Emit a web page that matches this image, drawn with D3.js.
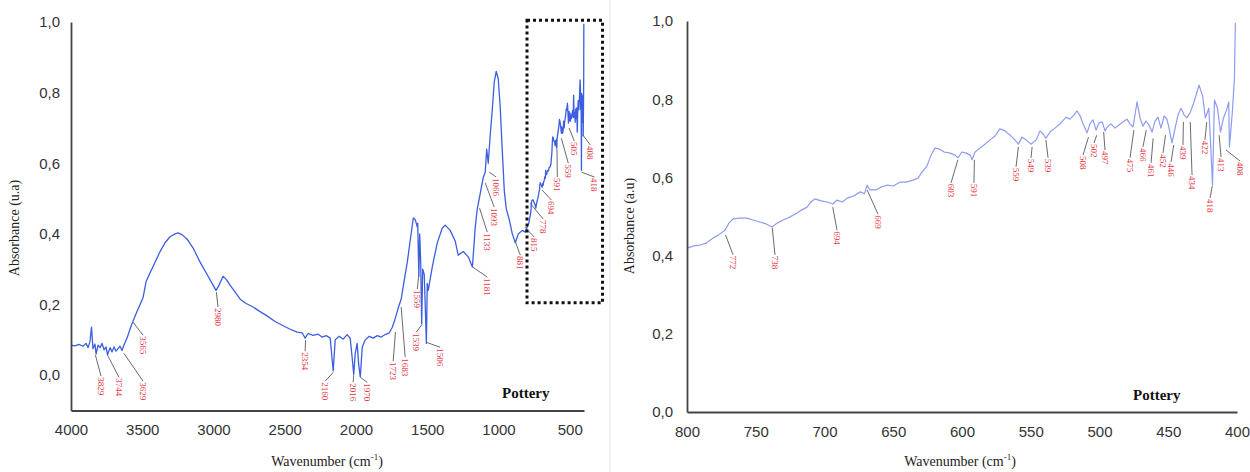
<!DOCTYPE html>
<html>
<head>
<meta charset="utf-8">
<script src="https://cdn.jsdelivr.net/npm/d3@7"></script>
<style>
    body { margin: 0; background: #fff; }
    svg { display: block; }
    .tick text { font-family: "Liberation Sans", Arial, sans-serif; font-size: 15px; fill: #333; }
    .axis-title { font-family: "Liberation Serif", "Times New Roman", serif; font-size: 14px; fill: #222; }
    .sample-name { font-family: "Liberation Serif", "Times New Roman", serif; font-size: 15px; font-weight: bold; fill: #111; }
    .peak-label { font-family: "Liberation Serif", "Times New Roman", serif; font-size: 9px; fill: #e8343c; }
</style>
</head>
<body>
<div id="chart"></div>
<script>
// full spectrum, 4000 -> 800 cm-1
const fullWaves = [4000, 3972, 3944, 3916, 3895, 3880, 3867, 3856, 3846, 3832, 3824, 3810, 3796, 3782, 3768, 3754, 3744, 3726, 3712, 3698, 3684, 3670, 3656, 3642, 3629, 3607, 3586, 3565, 3537, 3515, 3494, 3473, 3445, 3410, 3375, 3340, 3305, 3270, 3249, 3221, 3185, 3143, 3094, 3045, 3003, 2982, 2961, 2933, 2912, 2884, 2848, 2813, 2771, 2722, 2673, 2624, 2568, 2511, 2462, 2413, 2378, 2357, 2336, 2301, 2266, 2238, 2209, 2181, 2160, 2146, 2118, 2090, 2062, 2041, 2027, 2016, 2006, 1992, 1981, 1970, 1956, 1935, 1907, 1879, 1851, 1823, 1795, 1767, 1746, 1725, 1704, 1683, 1661, 1640, 1620, 1598, 1584, 1570, 1567, 1559, 1553, 1546, 1539, 1532, 1521, 1506, 1500, 1493, 1465, 1430, 1395, 1374, 1339, 1304, 1283, 1247, 1212, 1183, 1163, 1149, 1135, 1121, 1107, 1093, 1083, 1072, 1058, 1044, 1030, 1016, 1002, 988, 974, 959, 945, 924, 903, 882, 861, 833, 812];
const fullAbs = [0.085, 0.083, 0.087, 0.082, 0.090, 0.078, 0.095, 0.136, 0.075, 0.088, 0.060, 0.085, 0.078, 0.090, 0.072, 0.080, 0.058, 0.078, 0.066, 0.080, 0.068, 0.075, 0.082, 0.070, 0.085, 0.105, 0.130, 0.153, 0.180, 0.200, 0.220, 0.265, 0.290, 0.320, 0.350, 0.375, 0.392, 0.400, 0.403, 0.398, 0.385, 0.360, 0.320, 0.285, 0.255, 0.240, 0.255, 0.280, 0.272, 0.255, 0.235, 0.215, 0.203, 0.193, 0.180, 0.168, 0.152, 0.140, 0.130, 0.122, 0.120, 0.105, 0.118, 0.113, 0.116, 0.108, 0.112, 0.105, 0.012, 0.100, 0.110, 0.102, 0.115, 0.105, 0.050, 0.002, 0.060, 0.090, 0.030, -0.005, 0.080, 0.100, 0.110, 0.105, 0.112, 0.108, 0.115, 0.120, 0.135, 0.160, 0.190, 0.215, 0.270, 0.320, 0.380, 0.445, 0.440, 0.420, 0.430, 0.280, 0.400, 0.320, 0.145, 0.300, 0.285, 0.090, 0.260, 0.240, 0.306, 0.374, 0.416, 0.425, 0.410, 0.380, 0.340, 0.350, 0.335, 0.306, 0.420, 0.470, 0.500, 0.530, 0.560, 0.575, 0.640, 0.600, 0.680, 0.750, 0.830, 0.860, 0.840, 0.760, 0.640, 0.520, 0.470, 0.440, 0.400, 0.375, 0.400, 0.410, 0.405];

// expanded region, 800 -> 400 cm-1
const zoomWaves = [800, 795, 790.5, 786, 781, 777, 772.4, 769.5, 766.5, 761.5, 756.4, 752, 747, 742.5, 738.2, 734.5, 730, 725, 720, 716.4, 712.7, 710, 707, 702.5, 698, 694, 691, 687, 683.6, 679, 674, 671, 669, 667, 662.5, 659, 654.5, 650, 645, 640.7, 635.6, 632, 629, 625.5, 622.5, 619.6, 616.7, 613, 608.7, 605, 603, 600, 597, 594, 592.7, 590.5, 587.6, 584, 579.6, 576, 572.4, 568.7, 565, 561.5, 559, 556.4, 553.4, 549.8, 546, 543.3, 541, 539, 536, 532.4, 528.7, 524.3, 521.5, 518.5, 516.4, 514, 512, 509, 507, 504.7, 502.5, 500.4, 498, 496, 494, 491.6, 488.7, 485.8, 483, 480, 477.8, 475.6, 472.7, 470.5, 468.4, 466.2, 464, 461.8, 459.6, 457.5, 455.3, 453, 451, 449.4, 447.3, 445, 442.9, 440.7, 438.5, 436.4, 434.2, 432, 429.8, 427.6, 425, 423, 420.5, 419.3, 417.8, 416.4, 414.2, 412, 409.8, 407.6, 406, 405.5, 403.4, 401.9, 401.2];
const zoomAbs = [0.419, 0.425, 0.427, 0.432, 0.445, 0.453, 0.465, 0.483, 0.494, 0.496, 0.496, 0.491, 0.486, 0.481, 0.473, 0.483, 0.491, 0.499, 0.509, 0.517, 0.524, 0.537, 0.545, 0.540, 0.537, 0.532, 0.542, 0.537, 0.547, 0.552, 0.563, 0.558, 0.580, 0.568, 0.568, 0.575, 0.580, 0.578, 0.588, 0.588, 0.593, 0.598, 0.614, 0.629, 0.657, 0.675, 0.673, 0.665, 0.662, 0.657, 0.650, 0.665, 0.662, 0.657, 0.645, 0.665, 0.673, 0.683, 0.696, 0.706, 0.724, 0.719, 0.708, 0.696, 0.685, 0.703, 0.696, 0.685, 0.696, 0.719, 0.711, 0.700, 0.716, 0.726, 0.737, 0.754, 0.749, 0.760, 0.770, 0.757, 0.737, 0.714, 0.737, 0.747, 0.721, 0.739, 0.742, 0.719, 0.731, 0.737, 0.726, 0.734, 0.742, 0.749, 0.737, 0.729, 0.793, 0.752, 0.731, 0.744, 0.734, 0.716, 0.744, 0.754, 0.726, 0.757, 0.749, 0.726, 0.688, 0.726, 0.760, 0.777, 0.760, 0.752, 0.765, 0.785, 0.810, 0.836, 0.808, 0.752, 0.777, 0.696, 0.580, 0.798, 0.777, 0.716, 0.752, 0.772, 0.793, 0.678, 0.767, 0.850, 0.995];

// peak annotations, full spectrum
const fullPeakLabels = ['3829', '3744', '3629', '3565', '2980', '2354', '2160', '2016', '1970', '1723', '1683', '1559', '1539', '1506', '1181', '1133', '1093', '1066', '881', '815', '778', '694', '591', '559', '505', '408', '418'];
const fullPeakAbs = [0.057, 0.057, 0.062, 0.150, 0.235, 0.099, 0.008, 0.0, -0.006, 0.122, 0.193, 0.283, 0.142, 0.093, 0.306, 0.473, 0.544, 0.575, 0.377, 0.419, 0.487, 0.524, 0.671, 0.671, 0.700, 0.680, 0.575];
const fullTipWaves = [3789, 3663, 3494, 3494, 2968, 2357, 2216, 2020, 1921, 1739, 1655, 1570, 1577, 1409, 1079, 1079, 1030, 1016, 847, 749, 686, 629, 587, 510, 468, 356, 327];
const fullTipAbs = [-0.003, -0.006, -0.017, 0.113, 0.193, 0.068, -0.017, -0.020, -0.020, 0.040, 0.051, 0.244, 0.122, 0.079, 0.278, 0.405, 0.476, 0.561, 0.340, 0.391, 0.442, 0.496, 0.561, 0.600, 0.663, 0.652, 0.561];

// peak annotations, expanded region
const zoomPeakLabels = ['772', '738', '694', '669', '603', '591', '559', '549', '539', '508', '502', '497', '475', '466', '461', '452', '446', '439', '434', '422', '418', '413', '408'];
const zoomPeakAbs = [0.453, 0.471, 0.524, 0.568, 0.645, 0.645, 0.678, 0.678, 0.696, 0.703, 0.708, 0.716, 0.721, 0.721, 0.700, 0.708, 0.683, 0.742, 0.742, 0.742, 0.578, 0.708, 0.670];
const zoomTipWaves = [766.5, 736, 690.9, 661.1, 608, 591.3, 560.7, 549.8, 537.4, 512, 504, 496, 477.8, 468.4, 462.5, 453.8, 448, 439.3, 432.7, 423.3, 419.6, 411.6, 397.8];
const zoomTipAbs = [0.402, 0.402, 0.465, 0.506, 0.586, 0.586, 0.627, 0.650, 0.650, 0.657, 0.688, 0.670, 0.650, 0.678, 0.637, 0.662, 0.639, 0.683, 0.606, 0.696, 0.547, 0.652, 0.642];

// axes
const fullTicksX = [4000, 3500, 3000, 2500, 2000, 1500, 1000, 500];
const fullTicksY = [0.0, 0.2, 0.4, 0.6, 0.8, 1.0];
const zoomTicksX = [800, 750, 700, 650, 600, 550, 500, 450, 400];
const zoomTicksY = [0.0, 0.2, 0.4, 0.6, 0.8, 1.0];

// the dotted box marking the expanded region on the full spectrum
const zoomBoxWaves = [800, 270];
const zoomBoxAbs = [1.005, 0.205];

const width = 1250, height = 472;

const svg = d3.select('#chart').append('svg')
    .attr('width', width)
    .attr('height', height);

svg.append('rect').attr('width', width).attr('height', height).attr('fill', '#fff');

// faint divider between the two figures
svg.append('line')
    .attr('x1', 610).attr('x2', 610)
    .attr('y1', 0).attr('y2', height)
    .attr('stroke', '#e4e4e4').attr('stroke-width', 1);

const commaFormat = v => d3.format('.1f')(v).replace('.', ',');

function drawPanel(opts) {
    const x = d3.scaleLinear().domain(opts.xDomain).range(opts.xRange);
    const y = d3.scaleLinear().domain(opts.yDomain).range(opts.yRange);
    const g = svg.append('g');

    const data = d3.zip(opts.waves, opts.abs);
    const line = d3.line()
        .x(d => x(d[0]))
        .y(d => y(d[1]));

    // peak marker lines and labels
    const peaks = opts.labels.map((t, i) => ({
        text: t,
        wave: +t,
        abs: opts.peakAbs[i],
        tipWave: opts.tipWaves[i],
        tipAbs: opts.tipAbs[i]
    }));

    g.selectAll('.peak-line')
        .data(peaks)
        .enter()
        .append('line')
        .attr('class', 'peak-line')
        .attr('x1', d => x(d.wave))
        .attr('y1', d => y(d.abs))
        .attr('x2', d => x(d.tipWave))
        .attr('y2', d => y(d.tipAbs))
        .attr('stroke', '#6b6b6b')
        .attr('stroke-width', 1);

    g.selectAll('.peak-label')
        .data(peaks)
        .enter()
        .append('text')
        .attr('class', 'peak-label')
        .attr('transform', d => `translate(${x(d.tipWave)}, ${y(d.tipAbs) + 1}) rotate(90)`)
        .attr('dominant-baseline', 'central')
        .text(d => d.text);

    g.append('path')
        .datum(data)
        .attr('fill', 'none')
        .attr('stroke', opts.lineColor)
        .attr('stroke-width', opts.lineWidth)
        .attr('stroke-linejoin', 'round')
        .attr('d', line);

    const xAxis = d3.axisBottom(x)
        .tickValues(opts.ticksX)
        .tickSize(0)
        .tickPadding(14)
        .tickFormat(d3.format('d'));
    const gx = g.append('g')
        .attr('transform', `translate(0, ${opts.yRange[0]})`)
        .call(xAxis);
    gx.select('.domain').attr('stroke', '#444').attr('stroke-width', 2.2);

    const yAxis = d3.axisLeft(y)
        .tickValues(opts.ticksY)
        .tickSize(0)
        .tickPadding(opts.yPad)
        .tickFormat(commaFormat);
    const gy = g.append('g')
        .attr('transform', `translate(${opts.xRange[0]}, 0)`)
        .call(yAxis);
    gy.select('.domain').attr('stroke', '#444').attr('stroke-width', 1.8);
    g.selectAll('.tick text').attr('font-size', null);

    g.append('text')
        .attr('class', 'axis-title')
        .attr('transform', `translate(${opts.yTitleX}, ${opts.yTitleY}) rotate(-90)`)
        .attr('text-anchor', 'middle')
        .text(opts.yTitle);

    const xt = g.append('text')
        .attr('class', 'axis-title')
        .attr('x', opts.xTitleX)
        .attr('y', 466)
        .attr('text-anchor', 'middle')
        .text('Wavenumber (cm');
    xt.append('tspan').attr('dy', -6).attr('font-size', 9).text('-1');
    xt.append('tspan').attr('dy', 6).text(')');

    g.append('text')
        .attr('class', 'sample-name')
        .attr('x', opts.nameX)
        .attr('y', opts.nameY)
        .text('Pottery');

    return {x, y, g};
}

const left = drawPanel({
    waves: fullWaves.concat(zoomWaves),
    abs: fullAbs.concat(zoomAbs),
    labels: fullPeakLabels,
    peakAbs: fullPeakAbs,
    tipWaves: fullTipWaves,
    tipAbs: fullTipAbs,
    xDomain: [4000, 400],
    xRange: [71, 584],
    yDomain: [-0.1, 1.0],
    yRange: [410.5, 22],
    ticksX: fullTicksX,
    ticksY: fullTicksY,
    yPad: 11,
    lineColor: '#3c5ee0',
    lineWidth: 1.3,
    yTitle: 'Absorbance (u.a)',
    yTitleX: 19,
    yTitleY: 228,
    xTitleX: 327,
    nameX: 502,
    nameY: 398
});

left.g.append('rect')
    .attr('x', left.x(zoomBoxWaves[0]))
    .attr('y', left.y(zoomBoxAbs[0]))
    .attr('width', left.x(zoomBoxWaves[1]) - left.x(zoomBoxWaves[0]))
    .attr('height', left.y(zoomBoxAbs[1]) - left.y(zoomBoxAbs[0]))
    .attr('fill', 'none')
    .attr('stroke', '#111')
    .attr('stroke-width', 3)
    .attr('stroke-dasharray', '3,3');

drawPanel({
    waves: zoomWaves,
    abs: zoomAbs,
    labels: zoomPeakLabels,
    peakAbs: zoomPeakAbs,
    tipWaves: zoomTipWaves,
    tipAbs: zoomTipAbs,
    xDomain: [800, 400],
    xRange: [687, 1237],
    yDomain: [0, 1],
    yRange: [412, 21],
    ticksX: zoomTicksX,
    ticksY: zoomTicksY,
    yPad: 14,
    lineColor: '#8c9cf0',
    lineWidth: 1.2,
    yTitle: 'Absorbance (a.u)',
    yTitleX: 634,
    yTitleY: 226,
    xTitleX: 960,
    nameX: 1133,
    nameY: 400
});
</script>
</body>
</html>
